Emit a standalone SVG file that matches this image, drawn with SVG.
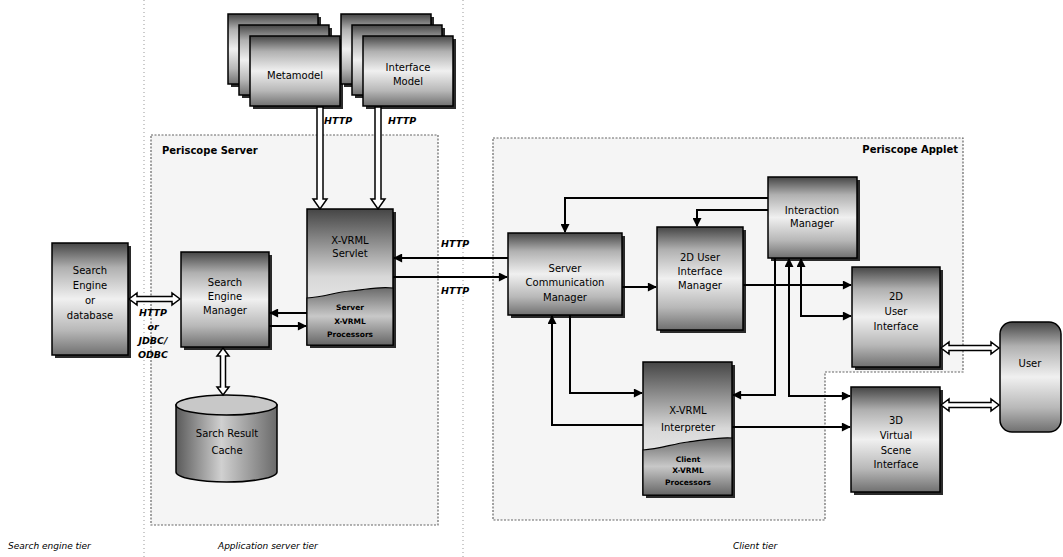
<svg xmlns="http://www.w3.org/2000/svg" width="1063" height="557" viewBox="0 0 1063 557">
<defs>
<linearGradient id="gbox" x1="0" y1="0" x2="0" y2="1">
<stop offset="0" stop-color="#454545"/>
<stop offset="0.22" stop-color="#b0b0b0"/>
<stop offset="0.5" stop-color="#f0f0f0"/>
<stop offset="0.78" stop-color="#b8b8b8"/>
<stop offset="1" stop-color="#707070"/>
</linearGradient>
<linearGradient id="gtop" x1="0" y1="0" x2="0" y2="1">
<stop offset="0" stop-color="#454545"/>
<stop offset="0.5" stop-color="#d8d8d8"/>
<stop offset="1" stop-color="#fafafa"/>
</linearGradient>
<linearGradient id="glow" x1="0" y1="0" x2="0" y2="1">
<stop offset="0" stop-color="#6a6a6a"/>
<stop offset="0.5" stop-color="#c8c8c8"/>
<stop offset="1" stop-color="#666"/>
</linearGradient>
<linearGradient id="gcyl" x1="0" y1="0" x2="1" y2="0">
<stop offset="0" stop-color="#5a5a5a"/>
<stop offset="0.45" stop-color="#d0d0d0"/>
<stop offset="1" stop-color="#6a6a6a"/>
</linearGradient>
<marker id="ah" viewBox="0 0 10 10" refX="9" refY="5" markerWidth="10" markerHeight="9" markerUnits="userSpaceOnUse" orient="auto-start-reverse">
<path d="M0,0 L10,5 L0,10 Z" fill="#000"/>
</marker>
<style>
.box{fill:url(#gbox);stroke:#000;stroke-width:1.5}
.sh{fill:#2a2a2a}
.t{font-family:"DejaVu Sans","Liberation Sans",sans-serif;font-size:10px;fill:#000;text-anchor:middle}
.ts{font-family:"DejaVu Sans","Liberation Sans",sans-serif;font-size:7.5px;font-weight:bold;fill:#000;text-anchor:middle}
.lbl{font-family:"DejaVu Sans","Liberation Sans",sans-serif;font-size:10px;font-weight:bold;fill:#000}
.http{font-family:"DejaVu Sans","Liberation Sans",sans-serif;font-size:9.5px;font-weight:bold;font-style:italic;fill:#000}
.tier{font-family:"DejaVu Sans","Liberation Sans",sans-serif;font-size:9px;font-style:italic;fill:#000}
.region{fill:#f5f5f5;stroke:#666;stroke-width:1.2;stroke-dasharray:2 1.5}
.div{stroke:#999;stroke-width:1;stroke-dasharray:1 3;fill:none}
.c{fill:none;stroke:#000;stroke-width:2}
.hollow{fill:#fff;stroke:#000;stroke-width:1.5}
</style>
</defs>
<rect width="1063" height="557" fill="#fff"/>

<g id="tiers">
<line class="div" x1="144" y1="0" x2="144" y2="557"/>
<line class="div" x1="463" y1="0" x2="463" y2="557"/>
<rect class="region" x="151" y="135" width="287" height="390"/>
<path class="region" d="M493,138 H963 V372 H825 V520 H493 Z"/>
<text class="lbl" x="162" y="154">Periscope Server</text>
<text class="lbl" x="958" y="153" text-anchor="end">Periscope Applet</text>
<text class="tier" x="8" y="549">Search engine tier</text>
<text class="tier" x="218" y="549">Application server tier</text>
<text class="tier" x="733" y="549">Client tier</text>
</g>

<g id="metamodel">
<rect class="sh" x="231" y="17" width="90" height="70"/>
<rect class="box" x="228" y="14" width="90" height="70"/>
<rect class="sh" x="242" y="28" width="90" height="70"/>
<rect class="box" x="239" y="25" width="90" height="70"/>
<rect class="sh" x="253" y="39" width="90" height="70"/>
<rect class="box" x="250" y="36" width="90" height="70"/>
<text class="t" x="295" y="79">Metamodel</text>
</g>

<g id="interface-model">
<rect class="sh" x="344" y="17" width="90" height="70"/>
<rect class="box" x="341" y="14" width="90" height="70"/>
<rect class="sh" x="355" y="28" width="90" height="70"/>
<rect class="box" x="352" y="25" width="90" height="70"/>
<rect class="sh" x="366" y="39" width="90" height="70"/>
<rect class="box" x="363" y="36" width="90" height="70"/>
<text class="t" x="408" y="71">Interface</text>
<text class="t" x="408" y="85">Model</text>
</g>

<g id="search-engine">
<rect class="sh" x="55" y="246" width="76" height="112"/>
<rect class="box" x="52" y="243" width="76" height="112"/>
<text class="t" x="90" y="274">Search</text>
<text class="t" x="90" y="289">Engine</text>
<text class="t" x="90" y="304">or</text>
<text class="t" x="90" y="319">database</text>
</g>

<g id="search-engine-manager">
<rect class="sh" x="184" y="255" width="88" height="95"/>
<rect class="box" x="181" y="252" width="88" height="95"/>
<text class="t" x="225" y="286">Search</text>
<text class="t" x="225" y="300">Engine</text>
<text class="t" x="225" y="314">Manager</text>
</g>

<g id="cache">
<path d="M176,405 V472 A50.5,10 0 0 0 277,472 V405 Z" fill="url(#gcyl)" stroke="#000" stroke-width="1.5"/>
<ellipse cx="226.5" cy="405" rx="50.5" ry="10" fill="#c8c8c8" stroke="#000" stroke-width="1.5"/>
<text class="t" x="227" y="437">Sarch Result</text>
<text class="t" x="227" y="454">Cache</text>
</g>

<g id="xvrml-servlet">
<rect class="sh" x="310" y="212" width="86" height="136"/>
<rect x="307" y="209" width="86" height="136" fill="url(#gtop)" stroke="#000" stroke-width="1.5"/>
<path d="M307,298 C325,297 335,292 350,291 S378,286 393,288 V345 H307 Z" fill="url(#glow)" stroke="#000" stroke-width="1.2"/>
<text class="t" x="350" y="244">X-VRML</text>
<text class="t" x="350" y="257">Servlet</text>
<text class="ts" x="350" y="310">Server</text>
<text class="ts" x="350" y="324">X-VRML</text>
<text class="ts" x="350" y="337">Processors</text>
</g>

<g id="server-communication-manager">
<rect class="sh" x="511" y="236" width="114" height="82"/>
<rect class="box" x="508" y="233" width="114" height="82"/>
<text class="t" x="565" y="272">Server</text>
<text class="t" x="565" y="286">Communication</text>
<text class="t" x="565" y="301">Manager</text>
</g>

<g id="ui-manager-2d">
<rect class="sh" x="660" y="230" width="86" height="103"/>
<rect class="box" x="657" y="227" width="86" height="103"/>
<text class="t" x="700" y="261">2D User</text>
<text class="t" x="700" y="275">Interface</text>
<text class="t" x="700" y="289">Manager</text>
</g>

<g id="interaction-manager">
<rect class="sh" x="771" y="180" width="89" height="81"/>
<rect class="box" x="768" y="177" width="89" height="81"/>
<text class="t" x="812" y="214">Interaction</text>
<text class="t" x="812" y="227">Manager</text>
</g>

<g id="user-interface-2d">
<rect class="sh" x="855" y="270" width="88" height="100"/>
<rect class="box" x="852" y="267" width="88" height="100"/>
<text class="t" x="896" y="300">2D</text>
<text class="t" x="896" y="315">User</text>
<text class="t" x="896" y="330">Interface</text>
</g>

<g id="xvrml-interpreter">
<rect class="sh" x="646" y="365" width="89" height="133"/>
<rect x="643" y="362" width="89" height="133" fill="url(#gtop)" stroke="#000" stroke-width="1.5"/>
<path d="M643,450 C660,449 672,444 688,442 S718,437 732,438 V495 H643 Z" fill="url(#glow)" stroke="#000" stroke-width="1.2"/>
<text class="t" x="688" y="414">X-VRML</text>
<text class="t" x="688" y="431">Interpreter</text>
<text class="ts" x="688" y="462">Client</text>
<text class="ts" x="688" y="473">X-VRML</text>
<text class="ts" x="688" y="485">Processors</text>
</g>

<g id="virtual-scene-3d">
<rect class="sh" x="854" y="390" width="89" height="105"/>
<rect class="box" x="851" y="387" width="89" height="105"/>
<text class="t" x="896" y="424">3D</text>
<text class="t" x="896" y="439">Virtual</text>
<text class="t" x="896" y="454">Scene</text>
<text class="t" x="896" y="468">Interface</text>
</g>

<g id="user">
<rect x="1000" y="322" width="61" height="110" rx="12" ry="12" fill="url(#gbox)" stroke="#000" stroke-width="1.5"/>
<text class="t" x="1030" y="367">User</text>
</g>

<g id="connectors">
<polygon class="hollow" points="317,107 323,107 323,199 327,199 320,209 313,199 317,199"/>
<polygon class="hollow" points="375,107 381,107 381,199 385,199 378,209 371,199 375,199"/>
<text class="http" x="324" y="124">HTTP</text>
<text class="http" x="388" y="124">HTTP</text>
<polygon class="hollow" points="129,299 137,293 137,296.5 172,296.5 172,293 180,299 172,305 172,301.5 137,301.5 137,305"/>
<text class="http" x="153" y="316" text-anchor="middle">HTTP</text>
<text class="http" x="153" y="330" text-anchor="middle">or</text>
<text class="http" x="153" y="344" text-anchor="middle">JDBC/</text>
<text class="http" x="153" y="358" text-anchor="middle">ODBC</text>
<polygon class="hollow" points="223,348 229,356 225.5,356 225.5,387 229,387 223,395 217,387 220.5,387 220.5,356 217,356"/>
<line class="c" x1="307" y1="313" x2="270" y2="313" marker-end="url(#ah)"/>
<line class="c" x1="269" y1="326" x2="306" y2="326" marker-end="url(#ah)"/>
<line class="c" x1="508" y1="258" x2="394" y2="258" marker-end="url(#ah)" stroke-width="2.5"/>
<line class="c" x1="393" y1="277" x2="507" y2="277" marker-end="url(#ah)" stroke-width="2.5"/>
<text class="http" x="441" y="247">HTTP</text>
<text class="http" x="441" y="294">HTTP</text>
<line class="c" x1="622" y1="287" x2="656" y2="287" marker-end="url(#ah)"/>
<polyline class="c" points="768,198 565,198 565,232" marker-end="url(#ah)"/>
<polyline class="c" points="768,210 697,210 697,226" marker-end="url(#ah)"/>
<line class="c" x1="743" y1="285" x2="851" y2="285" marker-end="url(#ah)"/>
<polyline class="c" points="801,259 801,316 851,316" marker-start="url(#ah)" marker-end="url(#ah)"/>
<polyline class="c" points="775,258 775,395 733,395" marker-end="url(#ah)"/>
<polyline class="c" points="789,259 789,396 850,396" marker-start="url(#ah)" marker-end="url(#ah)"/>
<polyline class="c" points="570,315 570,393 642,393" marker-end="url(#ah)"/>
<polyline class="c" points="643,425 552,425 552,316" marker-end="url(#ah)"/>
<line class="c" x1="732" y1="427" x2="850" y2="427" marker-end="url(#ah)"/>
<polygon class="hollow" points="941,348 949,342 949,345.5 991,345.5 991,342 999,348 991,354 991,350.5 949,350.5 949,354"/>
<polygon class="hollow" points="941,405 949,399 949,402.5 991,402.5 991,399 999,405 991,411 991,407.5 949,407.5 949,411"/>
</g>
</svg>
